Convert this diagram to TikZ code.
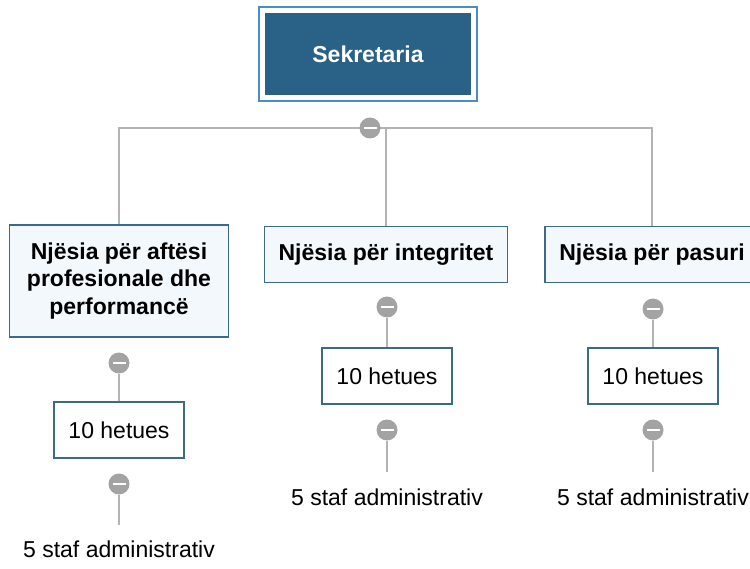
\documentclass[tikz,border=0pt]{standalone}
\usepackage{fontspec}
\setmainfont{Liberation Sans}
\usetikzlibrary{fit}
\definecolor{rootblue}{HTML}{2A6186}
\definecolor{framblue}{HTML}{4A8CC4}
\definecolor{edgeblue}{HTML}{3D6A8A}
\definecolor{unitfill}{HTML}{F3F8FC}
\definecolor{linkgray}{HTML}{B3B3B3}
\definecolor{dotgray}{HTML}{A3A3A3}
\begin{document}
\begin{tikzpicture}[x=1pt,y=-1pt,
    every node/.style={font=\fontsize{23}{27.5}\selectfont},
    rootbox/.style={fill=rootblue,text=white,font=\fontsize{23}{27.5}\selectfont\bfseries,
        minimum width=206,minimum height=82,inner sep=0},
    unitbox/.style={draw=edgeblue,line width=1.5pt,fill=unitfill,align=center,
        font=\fontsize{23}{27.5}\selectfont\bfseries,minimum height=56,inner sep=0},
    staffbox/.style={draw=edgeblue,line width=1.5pt,fill=white,
        minimum width=130,minimum height=56,inner sep=0},
    link/.style={draw=linkgray,line width=2pt},
    fold/.style={circle,fill=dotgray,minimum size=21,inner sep=0,
        path picture={\fill[white] ([xshift=-6.5,yshift=-1.4]path picture bounding box.center)
            rectangle ([xshift=6.5,yshift=1.4]path picture bounding box.center);}}]
    \useasboundingbox[fill=white] (0,0) rectangle (750,569);

    % top
    \node[rootbox] (sek) at (368,54) {Sekretaria};
    \node[fit=(sek),inner sep=5.5,draw=framblue,line width=2pt] (sekframe) {};

    % units
    \node[unitbox,minimum width=219,minimum height=112] (aftesi) at (119,281)
        {Njësia për aftësi\\profesionale dhe\\performancë};
    \node[unitbox,minimum width=243] (integritet) at (386,254.5) {Njësia për integritet};
    \node[unitbox,minimum width=214] (pasuri) at (652,254.5) {Njësia për pasuri};

    \coordinate (bus) at (370,128);
    \draw[link] (aftesi.north) |- (bus) -| (pasuri.north);
    \draw[link] (bus -| integritet.north) -- (integritet.north);
    \node[fold] (foldtop) at (bus) {};

    % investigators and staff
    \node[fold] (foldA1) at (119,363) {};
    \node[staffbox] (hetA) at (119,430) {10 hetues};
    \node[fold] (foldA2) at (119,484) {};
    \coordinate (endA) at (119,525);
    \node (stafA) at (119,549) {5 staf administrativ};

    \node[fold] (foldB1) at (387,307) {};
    \node[staffbox] (hetB) at (387,376) {10 hetues};
    \node[fold] (foldB2) at (387,430) {};
    \coordinate (endB) at (387,472);
    \node (stafB) at (387,497) {5 staf administrativ};

    \node[fold] (foldC1) at (653,309) {};
    \node[staffbox] (hetC) at (653,376) {10 hetues};
    \node[fold] (foldC2) at (653,430) {};
    \coordinate (endC) at (653,472);
    \node (stafC) at (653,497) {5 staf administrativ};

    \foreach \u in {A,B,C} {
        \draw[link] (fold\u1.south) -- (het\u.north);
        \draw[link] (fold\u2.south) -- (end\u);
    }
\end{tikzpicture}
\end{document}
